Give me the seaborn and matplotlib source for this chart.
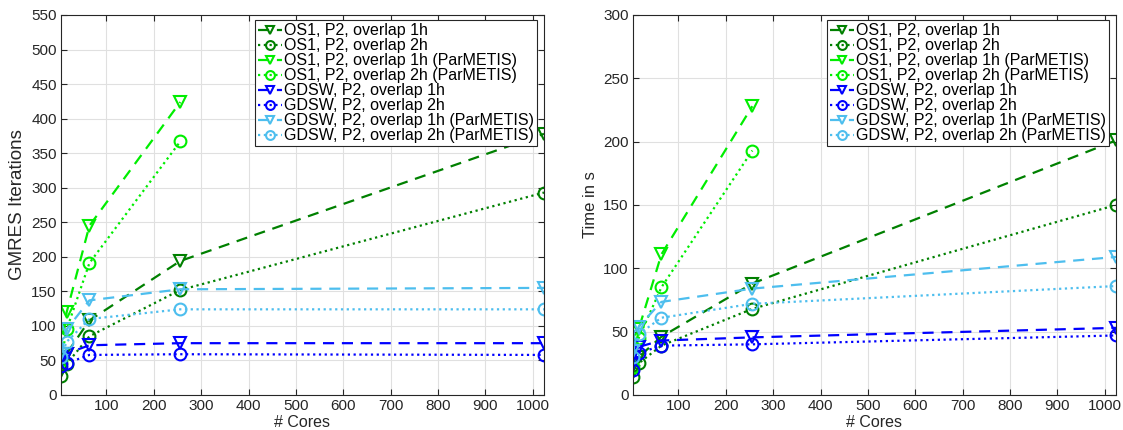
import numpy as np
import pandas as pd
import matplotlib
matplotlib.use("Agg")
import matplotlib.pyplot as plt
import seaborn as sns

cores = [4, 16, 64, 256, 1024]
cores_par = [4, 16, 64, 256]

labels = [
    "OS1, P2, overlap 1h",
    "OS1, P2, overlap 2h",
    "OS1, P2, overlap 1h (ParMETIS)",
    "OS1, P2, overlap 2h (ParMETIS)",
    "GDSW, P2, overlap 1h",
    "GDSW, P2, overlap 2h",
    "GDSW, P2, overlap 1h (ParMETIS)",
    "GDSW, P2, overlap 2h (ParMETIS)",
]

# GMRES iterations
it_os1_1h = [35, 60, 108, 194, 378]
it_os1_2h = [28, 45, 85, 152, 293]
it_os1_1h_par = [60, 120, 245, 424]
it_os1_2h_par = [50, 95, 191, 367]
it_gdsw_1h = [55, 60, 72, 75, 75]
it_gdsw_2h = [42, 46, 58, 59, 58]
it_gdsw_1h_par = [60, 95, 137, 153, 155]
it_gdsw_2h_par = [55, 77, 110, 124, 124]

# Time in s
t_os1_1h = [18, 30, 46, 88, 201]
t_os1_2h = [14, 25, 39, 68, 150]
t_os1_1h_par = [25, 52, 111, 228]
t_os1_2h_par = [22, 45, 85, 193]
t_gdsw_1h = [25, 38, 43, 45.5, 53]
t_gdsw_2h = [20, 33, 39, 40, 47]
t_gdsw_1h_par = [35, 54, 73.5, 84, 109]
t_gdsw_2h_par = [30, 48, 61, 72, 86]

sns.set_theme(style="whitegrid")
plt.rcParams["font.family"] = ["Liberation Sans", "DejaVu Sans"]

colors = ["#008000", "#008000", "#00ee00", "#00ee00",
          "#0000ff", "#0000ff", "#4DBEEE", "#4DBEEE"]
styles = [(0, (5, 3.5)), (0, (1, 1.6)), (0, (5, 3.5)), (0, (1, 1.6)),
          (0, (5, 3.5)), (0, (1, 1.6)), (0, (5, 3.5)), (0, (1, 1.6))]
markers = ["v", "o", "v", "o", "v", "o", "v", "o"]

fig = plt.figure(figsize=(11.23, 4.30), dpi=100)
ax1 = fig.add_axes([61 / 1123, 1 - 395 / 430, (544 - 61) / 1123, (395 - 15) / 430])
ax2 = fig.add_axes([633 / 1123, 1 - 395 / 430, (1116 - 633) / 1123, (395 - 15) / 430])

it_series = [it_os1_1h, it_os1_2h, it_os1_1h_par, it_os1_2h_par,
             it_gdsw_1h, it_gdsw_2h, it_gdsw_1h_par, it_gdsw_2h_par]
t_series = [t_os1_1h, t_os1_2h, t_os1_1h_par, t_os1_2h_par,
            t_gdsw_1h, t_gdsw_2h, t_gdsw_1h_par, t_gdsw_2h_par]

def draw(ax, series, ymax, ylabel, ylabel_size):
    for i, vals in enumerate(series):
        xs = cores if len(vals) == len(cores) else cores_par
        df = pd.DataFrame({"cores": xs, "val": vals})
        sns.lineplot(data=df, x="cores", y="val", ax=ax, color=colors[i],
                     linestyle=styles[i], linewidth=1.6, marker=markers[i],
                     markersize=8.5, markerfacecolor="none",
                     markeredgecolor=colors[i], markeredgewidth=1.5,
                     label=labels[i])
    ax.set_xlim(4, 1024)
    ax.set_ylim(0, ymax)
    ax.set_xticks(np.arange(100, 1001, 100))
    ax.set_yticks(np.arange(0, ymax + 1, 50))
    ax.set_xlabel("# Cores", fontsize=11.5, color="#262626", labelpad=1)
    ax.set_ylabel(ylabel, fontsize=ylabel_size, color="#262626", labelpad=4)
    ax.tick_params(axis="both", which="both", direction="in", length=4,
                   width=0.8, colors="#262626", labelsize=11,
                   top=True, right=True, bottom=True, left=True, pad=3)
    ax.grid(True, color="#e0e0e0", linewidth=0.8)
    for s in ax.spines.values():
        s.set_color("#262626")
        s.set_linewidth(0.8)
    leg = ax.legend(loc="upper right", bbox_to_anchor=(0.985, 0.987),
                    fontsize=11.5, handlelength=1.5, handletextpad=0.1,
                    borderpad=0.2, labelspacing=0.0, borderaxespad=0.0,
                    markerscale=0.75,
                    frameon=True, fancybox=False, framealpha=1.0)
    leg.get_frame().set_edgecolor("#262626")
    leg.get_frame().set_linewidth(0.8)
    for txt in leg.get_texts():
        txt.set_color("black")

draw(ax1, it_series, 550, "GMRES Iterations", 13.5)
draw(ax2, t_series, 300, "Time in s", 12)

fig.savefig("out.png", dpi=100)
